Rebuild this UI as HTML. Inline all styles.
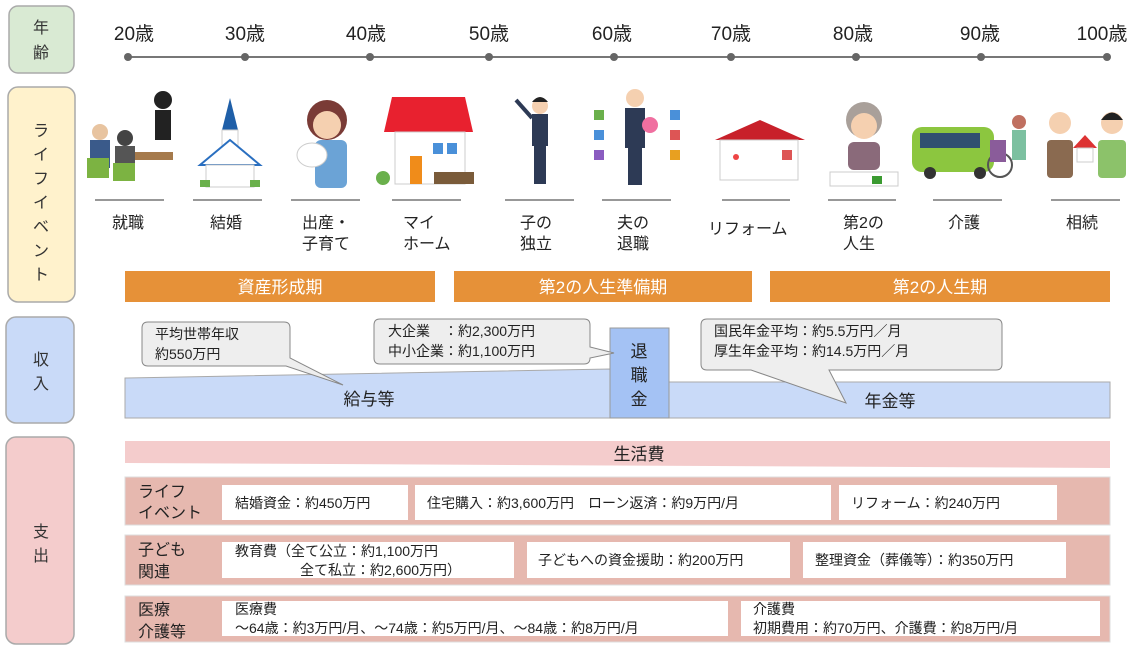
<!DOCTYPE html>
<html><head><meta charset="utf-8"><style>
html,body{margin:0;padding:0;background:#fff;}
svg{display:block;font-family:"Liberation Sans","Noto Sans CJK JP",sans-serif;}
</style></head><body>
<svg width="1141" height="647" viewBox="0 0 1141 647" xmlns="http://www.w3.org/2000/svg">
<!-- left category boxes -->
<rect x="9" y="6" width="65" height="67" rx="9" fill="#d9ead3" stroke="#aaa" stroke-width="1.5"/>
<text x="41" y="33" font-size="16" text-anchor="middle" fill="#333">年</text>
<text x="41" y="58" font-size="16" text-anchor="middle" fill="#333">齢</text>
<rect x="8" y="87" width="67" height="215" rx="10" fill="#fff2cc" stroke="#aaa" stroke-width="1.5"/>
<g font-size="16" text-anchor="middle" fill="#333">
<text x="41" y="136">ラ</text><text x="41" y="160">イ</text><text x="41" y="184">フ</text><text x="41" y="208">イ</text><text x="41" y="232">ベ</text><text x="41" y="256">ン</text><text x="41" y="280">ト</text>
</g>
<rect x="6" y="317" width="68" height="106" rx="10" fill="#c9daf8" stroke="#aaa" stroke-width="1.5"/>
<text x="41" y="365" font-size="16" text-anchor="middle" fill="#333">収</text>
<text x="41" y="389" font-size="16" text-anchor="middle" fill="#333">入</text>
<rect x="6" y="437" width="68" height="207" rx="10" fill="#f4cccc" stroke="#aaa" stroke-width="1.5"/>
<text x="41" y="537" font-size="16" text-anchor="middle" fill="#333">支</text>
<text x="41" y="561" font-size="16" text-anchor="middle" fill="#333">出</text>

<!-- timeline -->
<line x1="128" y1="57" x2="1107" y2="57" stroke="#777" stroke-width="2"/>
<g fill="#666">
<circle cx="128" cy="57" r="4"/><circle cx="245" cy="57" r="4"/><circle cx="370" cy="57" r="4"/><circle cx="489" cy="57" r="4"/><circle cx="614" cy="57" r="4"/><circle cx="731" cy="57" r="4"/><circle cx="856" cy="57" r="4"/><circle cx="981" cy="57" r="4"/><circle cx="1107" cy="57" r="4"/>
</g>
<g font-size="19" text-anchor="middle" fill="#222">
<text x="134" y="40">20歳</text><text x="245" y="40">30歳</text><text x="366" y="40">40歳</text><text x="489" y="40">50歳</text><text x="612" y="40">60歳</text><text x="731" y="40">70歳</text><text x="853" y="40">80歳</text><text x="980" y="40">90歳</text><text x="1102" y="40">100歳</text>
</g>

<!-- illustrations (simplified) -->
<g>
 <rect x="125" y="152" width="48" height="8" fill="#a57a4c"/><circle cx="163" cy="100" r="9" fill="#222"/><rect x="155" y="110" width="16" height="30" fill="#222"/>
 <circle cx="100" cy="132" r="8" fill="#e8c4a0"/><rect x="90" y="140" width="20" height="28" fill="#3a5a8a"/><rect x="87" y="158" width="22" height="20" fill="#7cb342"/>
 <circle cx="125" cy="138" r="8" fill="#444"/><rect x="115" y="146" width="20" height="26" fill="#555"/><rect x="113" y="163" width="22" height="18" fill="#7cb342"/>
 <polygon points="230,98 222,130 238,130" fill="#1f5fa8"/><rect x="222" y="130" width="16" height="20" fill="#fff" stroke="#ccc"/>
 <polygon points="230,140 200,165 260,165" fill="#fff" stroke="#2a6fc0" stroke-width="2"/><rect x="206" y="165" width="48" height="22" fill="#fff" stroke="#ccc"/>
 <rect x="200" y="180" width="10" height="7" fill="#6ab04c"/><rect x="250" y="180" width="10" height="7" fill="#6ab04c"/>
 <circle cx="327" cy="120" r="20" fill="#7a3b36"/><circle cx="327" cy="125" r="14" fill="#f5d0b0"/><rect x="315" y="140" width="32" height="48" rx="6" fill="#6ba3d6"/><ellipse cx="312" cy="155" rx="15" ry="12" fill="#fff" stroke="#ccc"/>
 <polygon points="392,97 465,97 473,132 384,132" fill="#e8212f"/><rect x="395" y="132" width="70" height="52" fill="#fff" stroke="#ccc"/>
 <rect x="410" y="156" width="12" height="28" fill="#f08c1a"/><rect x="433" y="143" width="10" height="11" fill="#4a90d9"/><rect x="447" y="143" width="10" height="11" fill="#4a90d9"/><rect x="434" y="172" width="40" height="12" fill="#7a5b3a"/><circle cx="383" cy="178" r="7" fill="#6ab04c"/>
 <circle cx="540" cy="106" r="8" fill="#f5d0b0"/><path d="M532 102 Q540 92 548 102Z" fill="#222"/><rect x="532" y="114" width="16" height="32" fill="#2d3a55"/><rect x="534" y="146" width="12" height="38" fill="#2d3a55"/><line x1="532" y1="118" x2="516" y2="100" stroke="#2d3a55" stroke-width="4"/>
 <circle cx="635" cy="98" r="9" fill="#f5d0b0"/><rect x="625" y="108" width="20" height="40" fill="#2d3a55"/><rect x="628" y="148" width="14" height="37" fill="#2d3a55"/><circle cx="650" cy="125" r="8" fill="#f06fa0"/>
 <rect x="594" y="110" width="10" height="10" fill="#6ab04c"/><rect x="594" y="130" width="10" height="10" fill="#4a90d9"/><rect x="594" y="150" width="10" height="10" fill="#8a5cc0"/><rect x="670" y="110" width="10" height="10" fill="#4a90d9"/><rect x="670" y="130" width="10" height="10" fill="#d55"/><rect x="670" y="150" width="10" height="10" fill="#e8a020"/>
 <polygon points="715,140 760,120 805,140" fill="#c8202a"/><rect x="720" y="140" width="78" height="40" fill="#fff" stroke="#ccc"/><rect x="782" y="150" width="10" height="10" fill="#d55"/><circle cx="736" cy="157" r="3" fill="#e44"/>
 <circle cx="864" cy="120" r="18" fill="#a9a09a"/><circle cx="864" cy="126" r="13" fill="#f5d0b0"/><rect x="848" y="142" width="32" height="28" rx="6" fill="#8a6a7a"/><rect x="830" y="172" width="68" height="14" fill="#fff" stroke="#ccc"/><rect x="872" y="176" width="10" height="8" fill="#3a9a30"/>
 <rect x="912" y="127" width="82" height="45" rx="10" fill="#8cc63f"/><rect x="920" y="133" width="60" height="15" fill="#305070"/><circle cx="930" cy="173" r="6" fill="#333"/><circle cx="980" cy="173" r="6" fill="#333"/><circle cx="1000" cy="165" r="12" fill="none" stroke="#555" stroke-width="2"/><rect x="990" y="140" width="16" height="22" fill="#8a5c9a"/><circle cx="1019" cy="122" r="7" fill="#c07060"/><rect x="1012" y="130" width="14" height="30" fill="#7cc0a0"/>
 <circle cx="1060" cy="123" r="11" fill="#f5d0b0"/><rect x="1047" y="140" width="26" height="38" rx="4" fill="#8a6a50"/><circle cx="1112" cy="123" r="11" fill="#f5d0b0"/><path d="M1101 120 Q1112 105 1123 120Z" fill="#222"/><rect x="1098" y="140" width="28" height="38" rx="4" fill="#8cc26a"/><polygon points="1085,135 1073,148 1097,148" fill="#d33"/><rect x="1077" y="148" width="16" height="14" fill="#fff" stroke="#ccc"/>
</g>

<!-- event underlines -->
<g stroke="#777" stroke-width="1.5">
<line x1="95" y1="200" x2="164" y2="200"/>
<line x1="193" y1="200" x2="262" y2="200"/><line x1="291" y1="200" x2="360" y2="200"/><line x1="392" y1="200" x2="461" y2="200"/><line x1="505" y1="200" x2="574" y2="200"/><line x1="602" y1="200" x2="671" y2="200"/><line x1="722" y1="200" x2="790" y2="200"/><line x1="828" y1="200" x2="896" y2="200"/><line x1="933" y1="200" x2="1002" y2="200"/><line x1="1051" y1="200" x2="1120" y2="200"/>
</g>
<g font-size="16" fill="#222">
<text x="112" y="228">就職</text><text x="210" y="228">結婚</text>
<text x="302" y="228">出産・</text><text x="302" y="249">子育て</text>
<text x="403" y="228">マイ</text><text x="403" y="249">ホーム</text>
<text x="520" y="228">子の</text><text x="520" y="249">独立</text>
<text x="617" y="228">夫の</text><text x="617" y="249">退職</text>
<text x="708" y="234">リフォーム</text>
<text x="843" y="228">第2の</text><text x="843" y="249">人生</text>
<text x="948" y="228">介護</text><text x="1066" y="228">相続</text>
</g>

<!-- periods -->
<rect x="125" y="271" width="310" height="31" fill="#e69138"/>
<rect x="454" y="271" width="298" height="31" fill="#e69138"/>
<rect x="770" y="271" width="340" height="31" fill="#e69138"/>
<g font-size="17" fill="#fff" text-anchor="middle">
<text x="280" y="293">資産形成期</text><text x="603" y="293">第2の人生準備期</text><text x="940" y="293">第2の人生期</text>
</g>

<!-- income -->
<polygon points="125,378 610,369 610,418 125,418" fill="#c9daf8" stroke="#aaa" stroke-width="1"/>
<rect x="669" y="382" width="441" height="36" fill="#c9daf8" stroke="#aaa" stroke-width="1"/>
<rect x="610" y="328" width="59" height="90" fill="#a4c2f4" stroke="#999" stroke-width="1"/>
<g font-size="17" fill="#222" text-anchor="middle">
<text x="639" y="357">退</text><text x="639" y="381">職</text><text x="639" y="405">金</text>
<text x="369" y="405">給与等</text><text x="890" y="407">年金等</text>
</g>
<!-- callouts -->
<path d="M148 322 H284 Q290 322 290 328 V358 L343 385 L286 366 H148 Q142 366 142 360 V328 Q142 322 148 322Z" fill="#eee" stroke="#888" stroke-width="1"/>
<g font-size="14" fill="#222"><text x="155" y="339">平均世帯年収</text><text x="155" y="359">約550万円</text></g>

<path d="M380 319 H584 Q590 319 590 325 V347 L614 353 L590 358 Q590 364 584 364 H380 Q374 364 374 358 V325 Q374 319 380 319Z" fill="#eee" stroke="#888" stroke-width="1"/>
<g font-size="14" fill="#222"><text x="388" y="336">大企業　：約2,300万円</text><text x="388" y="356">中小企業：約1,100万円</text></g>

<path d="M707 319 H996 Q1002 319 1002 325 V364 Q1002 370 996 370 H829 L846 403 L751 370 H707 Q701 370 701 364 V325 Q701 319 707 319Z" fill="#eee" stroke="#888" stroke-width="1"/>
<g font-size="14" fill="#222"><text x="714" y="336">国民年金平均：約5.5万円／月</text><text x="714" y="356">厚生年金平均：約14.5万円／月</text></g>

<!-- expenses -->
<polygon points="125,441 1110,441 1110,468 125,463" fill="#f4cccc"/>
<text x="639" y="460" font-size="17" fill="#222" text-anchor="middle">生活費</text>

<rect x="125" y="477" width="985" height="48" fill="#e6b8af" stroke="#ddd"/>
<rect x="125" y="535" width="985" height="50" fill="#e6b8af" stroke="#ddd"/>
<rect x="125" y="596" width="985" height="46" fill="#e6b8af" stroke="#ddd"/>
<g fill="#fff">
<rect x="222" y="485" width="186" height="35"/><rect x="415" y="485" width="416" height="35"/><rect x="839" y="485" width="218" height="35"/>
<rect x="222" y="542" width="292" height="36"/><rect x="527" y="542" width="263" height="36"/><rect x="803" y="542" width="263" height="36"/>
<rect x="222" y="601" width="506" height="35"/><rect x="741" y="601" width="359" height="35"/>
</g>
<g font-size="16" fill="#222">
<text x="138" y="497">ライフ</text><text x="138" y="518">イベント</text>
<text x="138" y="555">子ども</text><text x="138" y="577">関連</text>
<text x="138" y="615">医療</text><text x="138" y="637">介護等</text>
</g>
<g font-size="14" fill="#222">
<text x="235" y="508">結婚資金：約450万円</text>
<text x="427" y="508">住宅購入：約3,600万円　ローン返済：約9万円/月</text>
<text x="851" y="508">リフォーム：約240万円</text>
<text x="235" y="556">教育費（全て公立：約1,100万円</text>
<text x="300" y="575">全て私立：約2,600万円）</text>
<text x="538" y="565">子どもへの資金援助：約200万円</text>
<text x="815" y="565">整理資金（葬儀等）：約350万円</text>
<text x="235" y="614">医療費</text>
<text x="235" y="633">～64歳：約3万円/月、～74歳：約5万円/月、～84歳：約8万円/月</text>
<text x="753" y="614">介護費</text>
<text x="753" y="633">初期費用：約70万円、介護費：約8万円/月</text>
</g>
</svg>
</body></html>
